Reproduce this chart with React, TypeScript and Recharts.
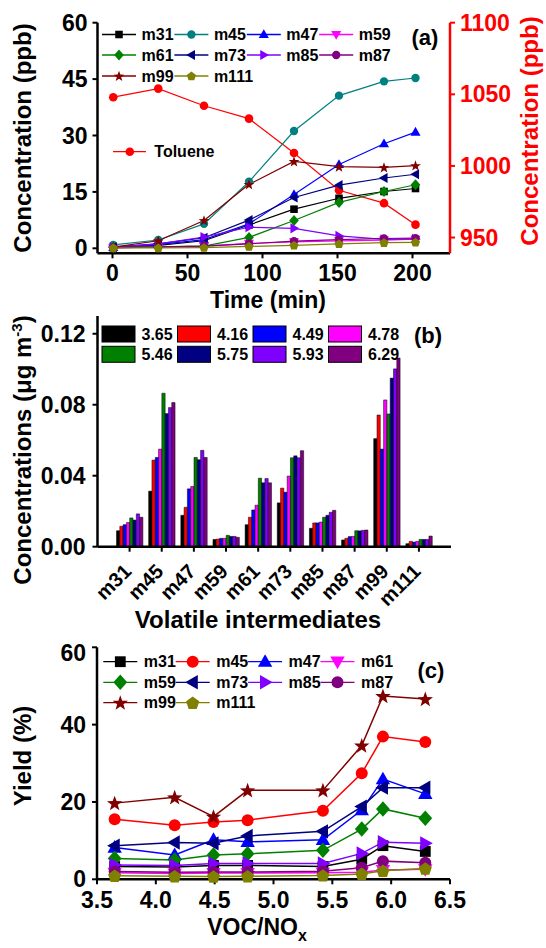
import React from 'react';
import { LineChart, BarChart, Line, Bar, XAxis, YAxis } from 'recharts';

const FONT = "'Liberation Sans', Arial, Helvetica, sans-serif";

// ---- (a) concentration vs time ----
const times = [0.5, 30.5, 61, 91, 121, 151, 181, 202];
const aM31 = [0.2, 0.8, 2.0, 6.2, 10.4, 13.3, 15.1, 15.9];
const aM45 = [0.9, 2.2, 6.5, 17.7, 31.2, 40.6, 44.4, 45.3];
const aM47 = [0.2, 1.0, 2.3, 6.5, 14.3, 22.3, 27.8, 30.9];
const aM59 = [0.2, 0.3, 0.6, 1.3, 1.7, 2.0, 2.2, 2.4];
const aM61 = [0.3, 0.4, 0.6, 2.9, 7.4, 12.2, 15.1, 16.9];
const aM73 = [0.3, 1.2, 2.8, 7.5, 13.5, 16.8, 18.7, 19.7];
const aM85 = [0.3, 1.2, 3.0, 5.6, 5.3, 3.3, 2.4, 2.5];
const aM87 = [0.1, 0.4, 0.6, 1.2, 1.9, 2.3, 2.6, 2.7];
const aM99 = [0.3, 2.0, 7.4, 17.0, 23.1, 21.7, 21.5, 22.0];
const aM111 = [0.1, 0.1, 0.2, 0.5, 0.8, 1.2, 1.5, 1.6];
const toluene = [1048, 1054, 1042, 1033, 1009, 983, 974, 959];

// ---- (b) concentrations per intermediate, one array per VOC/NOx ----
const species = ['m31', 'm45', 'm47', 'm59', 'm61', 'm73', 'm85', 'm87', 'm99', 'm111'];
const b365 = [0.009, 0.0313, 0.0177, 0.0041, 0.0124, 0.0247, 0.0104, 0.0038, 0.0609, 0.0017];
const b416 = [0.0115, 0.0488, 0.0222, 0.0043, 0.0166, 0.033, 0.0134, 0.0047, 0.0742, 0.003];
const b449 = [0.0124, 0.0503, 0.0326, 0.0047, 0.0207, 0.0307, 0.0134, 0.0057, 0.055, 0.0026];
const b478 = [0.0136, 0.055, 0.0339, 0.0047, 0.0234, 0.0398, 0.0139, 0.0058, 0.0827, 0.003];
const b546 = [0.0162, 0.0865, 0.0503, 0.0064, 0.0386, 0.0501, 0.0166, 0.009, 0.0748, 0.0041];
const b575 = [0.015, 0.075, 0.049, 0.0058, 0.036, 0.0512, 0.0177, 0.0089, 0.095, 0.0041];
const b593 = [0.0185, 0.0784, 0.0543, 0.0058, 0.0384, 0.0501, 0.0194, 0.0092, 0.1002, 0.0041];
const b629 = [0.0166, 0.0812, 0.0503, 0.0053, 0.036, 0.0541, 0.0205, 0.0094, 0.1063, 0.006];

// ---- (c) yield vs VOC/NOx ----
const ratios = [3.65, 4.16, 4.49, 4.78, 5.42, 5.75, 5.93, 6.29];
const cM31 = [3.3, 3.2, 3.6, 3.6, 3.3, 5.2, 8.7, 7.2];
const cM45 = [15.5, 14.0, 14.8, 15.3, 17.7, 27.4, 36.9, 35.5];
const cM47 = [8.2, 6.3, 10.2, 9.7, 10.2, 17.9, 25.9, 22.1];
const cM61 = [1.7, 1.5, 1.6, 1.6, 1.7, 1.8, 2.4, 2.6];
const cM59 = [5.4, 5.0, 6.3, 6.6, 7.5, 13.0, 18.2, 15.8];
const cM73 = [8.7, 9.5, 9.3, 11.2, 12.4, 18.8, 23.7, 23.7];
const cM85 = [3.7, 3.6, 4.1, 4.1, 4.1, 6.7, 9.6, 9.3];
const cM87 = [2.0, 1.8, 1.9, 1.9, 2.1, 3.0, 4.7, 4.3];
const cM99 = [19.7, 21.2, 16.2, 23.0, 23.0, 34.6, 47.4, 46.6];
const cM111 = [0.9, 0.8, 0.7, 0.8, 1.0, 1.4, 2.2, 2.8];

type Shape = 'square' | 'circle' | 'up' | 'down' | 'left' | 'right' | 'diamond' | 'star' | 'pentagon';
type Series = { key: string; vals: number[]; color: string; shape: Shape };

const seriesA: Series[] = [
  { key: 'm31', vals: aM31, color: '#000000', shape: 'square' },
  { key: 'm45', vals: aM45, color: '#008080', shape: 'circle' },
  { key: 'm47', vals: aM47, color: '#0000FF', shape: 'up' },
  { key: 'm59', vals: aM59, color: '#FF00FF', shape: 'down' },
  { key: 'm61', vals: aM61, color: '#008000', shape: 'diamond' },
  { key: 'm73', vals: aM73, color: '#000080', shape: 'left' },
  { key: 'm85', vals: aM85, color: '#8000FF', shape: 'right' },
  { key: 'm87', vals: aM87, color: '#800080', shape: 'circle' },
  { key: 'm99', vals: aM99, color: '#800000', shape: 'star' },
  { key: 'm111', vals: aM111, color: '#808000', shape: 'pentagon' },
];

const seriesC: Series[] = [
  { key: 'm31', vals: cM31, color: '#000000', shape: 'square' },
  { key: 'm45', vals: cM45, color: '#FF0000', shape: 'circle' },
  { key: 'm47', vals: cM47, color: '#0000FF', shape: 'up' },
  { key: 'm61', vals: cM61, color: '#FF00FF', shape: 'down' },
  { key: 'm59', vals: cM59, color: '#008000', shape: 'diamond' },
  { key: 'm73', vals: cM73, color: '#000080', shape: 'left' },
  { key: 'm85', vals: cM85, color: '#8000FF', shape: 'right' },
  { key: 'm87', vals: cM87, color: '#800080', shape: 'circle' },
  { key: 'm99', vals: cM99, color: '#800000', shape: 'star' },
  { key: 'm111', vals: cM111, color: '#808000', shape: 'pentagon' },
];

const barsB = [
  { key: '3.65', vals: b365, color: '#000000' },
  { key: '4.16', vals: b416, color: '#FF0000' },
  { key: '4.49', vals: b449, color: '#0000FF' },
  { key: '4.78', vals: b478, color: '#FF00FF' },
  { key: '5.46', vals: b546, color: '#008000' },
  { key: '5.75', vals: b575, color: '#000080' },
  { key: '5.93', vals: b593, color: '#8000FF' },
  { key: '6.29', vals: b629, color: '#800080' },
];

const dataA = times.map((t, i) => {
  const row: any = { t, tol: toluene[i] };
  seriesA.forEach((s) => (row[s.key] = s.vals[i]));
  return row;
});
const dataB = species.map((name, i) => {
  const row: any = { name };
  barsB.forEach((b) => (row[b.key] = b.vals[i]));
  return row;
});
const dataC = ratios.map((r, i) => {
  const row: any = { r };
  seriesC.forEach((s) => (row[s.key] = s.vals[i]));
  return row;
});

function Marker({ cx, cy, r, shape, color }: { cx: number; cy: number; r: number; shape: Shape; color: string }) {
  if (cx == null || cy == null || isNaN(cx) || isNaN(cy)) return null;
  const pts = (arr: number[][]) => arr.map(([x, y]) => `${cx + x * r},${cy + y * r}`).join(' ');
  switch (shape) {
    case 'square':
      return <rect x={cx - r * 0.9} y={cy - r * 0.9} width={r * 1.8} height={r * 1.8} fill={color} />;
    case 'circle':
      return <circle cx={cx} cy={cy} r={r} fill={color} />;
    case 'up':
      return <polygon points={pts([[0, -1.25], [1.2, 0.85], [-1.2, 0.85]])} fill={color} />;
    case 'down':
      return <polygon points={pts([[0, 1.25], [1.2, -0.85], [-1.2, -0.85]])} fill={color} />;
    case 'left':
      return <polygon points={pts([[-1.25, 0], [0.85, -1.2], [0.85, 1.2]])} fill={color} />;
    case 'right':
      return <polygon points={pts([[1.25, 0], [-0.85, -1.2], [-0.85, 1.2]])} fill={color} />;
    case 'diamond':
      return <polygon points={pts([[0, -1.3], [1.15, 0], [0, 1.3], [-1.15, 0]])} fill={color} />;
    case 'star': {
      const p: number[][] = [];
      for (let k = 0; k < 10; k++) {
        const rad = k % 2 === 0 ? 1.35 : 0.55;
        const a = -Math.PI / 2 + (k * Math.PI) / 5;
        p.push([rad * Math.cos(a), rad * Math.sin(a) + 0.1]);
      }
      return <polygon points={pts(p)} fill={color} />;
    }
    case 'pentagon': {
      const p: number[][] = [];
      for (let k = 0; k < 5; k++) {
        const a = -Math.PI / 2 + (k * 2 * Math.PI) / 5;
        p.push([1.15 * Math.cos(a), 1.15 * Math.sin(a) + 0.1]);
      }
      return <polygon points={pts(p)} fill={color} />;
    }
  }
  return null;
}

const AX = { stroke: '#000', strokeWidth: 2.5 };
const TL = { stroke: '#000', strokeWidth: 2 };
const tickStyle = { fontSize: 23, fontWeight: 700, fill: '#000', fontFamily: FONT };
const txt = { fontFamily: FONT, fontWeight: 700, fill: '#000' } as const;

const RotTick = (props: any) => {
  const { x, y, payload } = props;
  const ax = x + 3;
  const ay = y + 21;
  return (
    <text x={ax} y={ay} textAnchor="end" transform={`rotate(-45 ${ax} ${ay})`} style={{ ...txt, fontSize: 20 }}>
      {payload.value}
    </text>
  );
};

function LineLegend({ items, x0, step, rows, r, textGap }: { items: Series[]; x0: number; step: number; rows: number[]; r: number; textGap: number }) {
  return (
    <g>
      {items.map((s, i) => {
        const mx = x0 + (i % 4) * step;
        const y = rows[Math.floor(i / 4)];
        return (
          <g key={s.key}>
            <line x1={mx - 17} x2={mx + 17} y1={y} y2={y} stroke={s.color} strokeWidth={1.3} />
            <Marker cx={mx} cy={y} r={r} shape={s.shape} color={s.color} />
            <text x={mx + textGap} y={y} dominantBaseline="central" style={{ ...txt, fontSize: 16 }}>
              {s.key}
            </text>
          </g>
        );
      })}
    </g>
  );
}

export default function App() {
  return (
    <div style={{ position: 'absolute', left: 0, top: 0, width: 546, height: 948, background: '#fff', fontFamily: FONT }}>
      {/* (a) */}
      <div style={{ position: 'absolute', left: 0, top: 0 }}>
        <LineChart width={546} height={300} data={dataA} margin={{ top: 22.7, right: 6, bottom: 16.7, left: 37.5 }}>
          <XAxis xAxisId="t" orientation="top" type="number" domain={[-10, 225]} height={0} tick={false} tickLine={false} axisLine={AX} />
          <XAxis xAxisId="b" dataKey="t" type="number" domain={[-10, 225]} ticks={[0, 50, 100, 150, 200]} height={30} tick={tickStyle} tickLine={TL} tickSize={5} tickMargin={6} axisLine={AX} />
          <YAxis yAxisId="l" domain={[-1.33, 60]} ticks={[0, 15, 30, 45, 60]} width={60} tick={tickStyle} tickLine={TL} tickSize={5} tickMargin={5} axisLine={AX} />
          <YAxis yAxisId="r" orientation="right" domain={[939, 1100]} ticks={[950, 1000, 1050, 1100]} width={90} tick={{ ...tickStyle, fill: '#FF0000' }} tickLine={{ stroke: '#FF0000', strokeWidth: 2 }} tickSize={5} tickMargin={5} axisLine={{ stroke: '#FF0000', strokeWidth: 2.5 }} />
          <Line xAxisId="b" yAxisId="r" dataKey="tol" stroke="#FF0000" strokeWidth={1.2} isAnimationActive={false} activeDot={false}
            dot={(p: any) => <Marker key={`tol-${p.index}`} cx={p.cx} cy={p.cy} r={4.3} shape="circle" color="#FF0000" />} />
          {seriesA.map((s) => (
            <Line key={s.key} xAxisId="b" yAxisId="l" dataKey={s.key} stroke={s.color} strokeWidth={1.2} isAnimationActive={false} activeDot={false}
              dot={(p: any) => <Marker key={`${s.key}-${p.index}`} cx={p.cx} cy={p.cy} r={4.2} shape={s.shape} color={s.color} />} />
          ))}
        </LineChart>
      </div>

      {/* (b) */}
      <div style={{ position: 'absolute', left: 0, top: 300 }}>
        <BarChart width={546} height={340} data={dataB} margin={{ top: 16, right: 95, bottom: 0, left: 37.5 }} barSize={3.3} barGap={0}>
          <XAxis xAxisId="t" orientation="top" dataKey="name" height={0} padding={{ left: 16, right: 16 }} tick={false} tickLine={false} axisLine={AX} />
          <XAxis xAxisId="b" dataKey="name" height={93.3} padding={{ left: 16, right: 16 }} interval={0} tick={<RotTick />} tickLine={TL} tickSize={5} tickMargin={0} axisLine={AX} />
          <YAxis yAxisId="l" domain={[0, 0.13]} ticks={[0, 0.04, 0.08, 0.12]} tickFormatter={(v: number) => v.toFixed(2)} width={60} tick={tickStyle} tickLine={TL} tickSize={5} tickMargin={7} axisLine={AX} />
          <YAxis yAxisId="r" orientation="right" domain={[0, 1]} width={0} tick={false} tickLine={false} axisLine={AX} />
          {barsB.map((b) => (
            <Bar key={b.key} xAxisId="b" yAxisId="l" dataKey={b.key} fill={b.color} stroke="#000" strokeWidth={0.5} isAnimationActive={false} />
          ))}
        </BarChart>
      </div>

      {/* (c) */}
      <div style={{ position: 'absolute', left: 0, top: 640 }}>
        <LineChart width={546} height={308} data={dataC} margin={{ top: 7.3, right: 96, bottom: 38.7, left: 37 }}>
          <XAxis xAxisId="t" orientation="top" type="number" domain={[3.5, 6.5]} height={0} tick={false} tickLine={false} axisLine={AX} />
          <XAxis xAxisId="b" dataKey="r" type="number" domain={[3.5, 6.5]} ticks={[3.5, 4, 4.5, 5, 5.5, 6, 6.5]} tickFormatter={(v: number) => v.toFixed(1)} height={30} tick={tickStyle} tickLine={TL} tickSize={5} tickMargin={7} axisLine={AX} />
          <YAxis yAxisId="l" domain={[0, 60]} ticks={[0, 20, 40, 60]} width={60} tick={tickStyle} tickLine={TL} tickSize={5} tickMargin={6} axisLine={AX} />
          <YAxis yAxisId="r" orientation="right" domain={[0, 1]} width={0} tick={false} tickLine={false} axisLine={AX} />
          {seriesC.map((s) => (
            <Line key={s.key} xAxisId="b" yAxisId="l" dataKey={s.key} stroke={s.color} strokeWidth={1.5} isAnimationActive={false} activeDot={false}
              dot={(p: any) => <Marker key={`${s.key}-${p.index}`} cx={p.cx} cy={p.cy} r={6} shape={s.shape} color={s.color} />} />
          ))}
        </LineChart>
      </div>

      {/* titles, panel labels, legends */}
      <svg width={546} height={948} style={{ position: 'absolute', left: 0, top: 0, pointerEvents: 'none' }}>
        {/* (a) */}
        <text transform="translate(30.5,138) rotate(-90)" textAnchor="middle" style={{ ...txt, fontSize: 24 }}>Concentration (ppb)</text>
        <text transform="translate(538,131) rotate(-90)" textAnchor="middle" style={{ ...txt, fontSize: 24, fill: '#FF0000' }}>Concentration (ppb)</text>
        <text x={268} y={308} textAnchor="middle" style={{ ...txt, fontSize: 23 }}>Time (min)</text>
        <text x={425} y={45} textAnchor="middle" style={{ ...txt, fontSize: 22 }}>(a)</text>
        <LineLegend items={seriesA} x0={119} step={72.4} rows={[34.5, 55, 76]} r={4.2} textGap={22.5} />
        <line x1={113} x2={146} y1={151.7} y2={151.7} stroke="#FF0000" strokeWidth={1.3} />
        <Marker cx={129.8} cy={151.7} r={4.3} shape="circle" color="#FF0000" />
        <text x={154.3} y={151.7} dominantBaseline="central" style={{ ...txt, fontSize: 16 }}>Toluene</text>

        {/* (b) */}
        <text transform="translate(30.5,450) rotate(-90)" textAnchor="middle" style={{ ...txt, fontSize: 24 }}>
          Concentrations (μg m<tspan dy={-9} style={{ fontSize: 15 }}>-3</tspan><tspan dy={9}>)</tspan>
        </text>
        <text x={258} y={628} textAnchor="middle" style={{ ...txt, fontSize: 24 }}>Volatile intermediates</text>
        <text x={428} y={343} textAnchor="middle" style={{ ...txt, fontSize: 22 }}>(b)</text>
        {barsB.map((b, i) => {
          const x = 102 + (i % 4) * 75.5;
          const y = i < 4 ? 334 : 354.3;
          return (
            <g key={b.key}>
              <rect x={x} y={y - 8} width={33} height={16} fill={b.color} stroke="#000" strokeWidth={1} />
              <text x={x + 39.5} y={y} dominantBaseline="central" style={{ ...txt, fontSize: 16 }}>{b.key}</text>
            </g>
          );
        })}

        {/* (c) */}
        <text transform="translate(30.5,756) rotate(-90)" textAnchor="middle" style={{ ...txt, fontSize: 24 }}>Yield (%)</text>
        <text x={257} y={935} textAnchor="middle" style={{ ...txt, fontSize: 23 }}>
          VOC/NO<tspan dy={6} style={{ fontSize: 16 }}>x</tspan>
        </text>
        <text x={431} y={678} textAnchor="middle" style={{ ...txt, fontSize: 22 }}>(c)</text>
        <LineLegend items={seriesC} x0={120.3} step={72.4} rows={[661.7, 682.3, 702.7]} r={6} textGap={23.5} />
      </svg>
    </div>
  );
}
